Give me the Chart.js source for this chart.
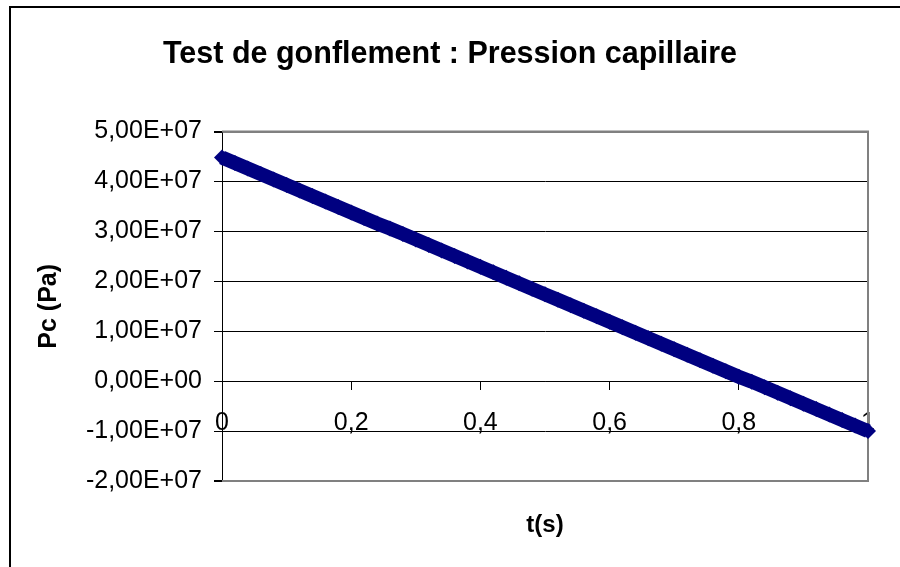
<!DOCTYPE html>
<html lang="fr">
<head>
    <meta charset="UTF-8">
    <title>Test de gonflement : Pression capillaire</title>
    <script src="https://cdn.jsdelivr.net/npm/chart.js@4.4.0/dist/chart.umd.min.js"></script>
    <style>
        body { margin: 0; background: #fff; }
        #wrap { width: 900px; height: 567px; }
    </style>
</head>
<body>
    <div id="wrap"><canvas id="pc-chart" width="900" height="567"></canvas></div>

    <script>
        // Données
        const tValues = [0, 0.02, 0.04, 0.06, 0.08, 0.1, 0.12, 0.14, 0.16, 0.18,
            0.2, 0.22, 0.24, 0.26, 0.28, 0.3, 0.32, 0.34, 0.36, 0.38,
            0.4, 0.42, 0.44, 0.46, 0.48, 0.5, 0.52, 0.54, 0.56, 0.58,
            0.6, 0.62, 0.64, 0.66, 0.68, 0.7, 0.72, 0.74, 0.76, 0.78,
            0.8, 0.82, 0.84, 0.86, 0.88, 0.9, 0.92, 0.94, 0.96, 0.98, 1];
        const pcValues = [4.48e7, 4.37e7, 4.26e7, 4.15e7, 4.04e7, 3.93e7, 3.82e7, 3.71e7, 3.60e7, 3.49e7,
            3.38e7, 3.27e7, 3.16e7, 3.06e7, 2.95e7, 2.84e7, 2.73e7, 2.62e7, 2.51e7, 2.40e7,
            2.29e7, 2.18e7, 2.07e7, 1.96e7, 1.85e7, 1.74e7, 1.63e7, 1.52e7, 1.41e7, 1.30e7,
            1.19e7, 1.08e7, 0.97e7, 0.86e7, 0.75e7, 0.64e7, 0.53e7, 0.42e7, 0.31e7, 0.20e7,
            0.09e7, -0.01e7, -0.12e7, -0.23e7, -0.34e7, -0.45e7, -0.56e7, -0.67e7, -0.78e7, -0.89e7, -1.00e7];

        const xTickLabels = ['0', '0,2', '0,4', '0,6', '0,8', '1'];
        const yTickValues = [-2e7, -1e7, 0, 1e7, 2e7, 3e7, 4e7, 5e7];
        const yTickLabels = ['-2,00E+07', '-1,00E+07', '0,00E+00', '1,00E+07', '2,00E+07', '3,00E+07', '4,00E+07', '5,00E+07'];
        const xAxisTitle = 't(s)';

        const FONT = "'Liberation Sans', Arial, sans-serif";
        const NAVY = '#000080';

        // Cadre extérieur, bordure grise de la zone de tracé, titre de l'axe X
        const framePlugin = {
            id: 'frame',
            beforeDraw(chart) {
                const ctx = chart.ctx;
                ctx.save();
                ctx.strokeStyle = '#000';
                ctx.lineWidth = 2;
                ctx.beginPath();
                ctx.moveTo(10, 567);
                ctx.lineTo(10, 7);
                ctx.lineTo(900, 7);
                ctx.stroke();
                ctx.restore();
            },
            beforeDatasetsDraw(chart) {
                const a = chart.chartArea;
                const ctx = chart.ctx;
                ctx.save();
                ctx.strokeStyle = '#808080';
                ctx.lineWidth = 2;
                ctx.beginPath();
                ctx.moveTo(a.left, a.top);
                ctx.lineTo(a.right, a.top);
                ctx.lineTo(a.right, a.bottom);
                ctx.lineTo(a.left, a.bottom);
                ctx.stroke();
                ctx.restore();
            },
            afterDraw(chart) {
                const a = chart.chartArea;
                const ctx = chart.ctx;
                ctx.save();
                ctx.fillStyle = '#000';
                ctx.font = 'bold 24px ' + FONT;
                ctx.textAlign = 'center';
                ctx.textBaseline = 'middle';
                ctx.fillText(xAxisTitle, (a.left + a.right) / 2, a.bottom + 44);
                ctx.restore();
            }
        };

        new Chart(document.getElementById('pc-chart'), {
            type: 'scatter',
            data: {
                datasets: [{
                    label: 'Pc',
                    data: tValues.map((t, i) => ({ x: t, y: pcValues[i] })),
                    showLine: true,
                    borderColor: NAVY,
                    borderWidth: 14,
                    backgroundColor: NAVY,
                    pointStyle: 'rectRot',
                    pointRadius: 8,
                    pointBorderWidth: 0,
                    pointBackgroundColor: NAVY,
                    clip: false
                }]
            },
            options: {
                responsive: false,
                animation: false,
                layout: { padding: { left: 0, right: 0, top: 0, bottom: 86 } },
                plugins: {
                    legend: { display: false },
                    tooltip: { enabled: false },
                    title: {
                        display: true,
                        text: 'Test de gonflement : Pression capillaire',
                        color: '#000',
                        font: { family: FONT, size: 30.5, weight: 'bold' },
                        padding: { top: 36, bottom: 59 }
                    }
                },
                scales: {
                    x: {
                        type: 'linear',
                        min: 0,
                        max: 1,
                        position: { y: 0 },
                        border: { color: '#000', width: 1 },
                        grid: { drawOnChartArea: false, drawTicks: true, tickLength: 8, tickColor: '#000' },
                        ticks: {
                            stepSize: 0.2,
                            color: '#000',
                            padding: 19,
                            maxRotation: 0,
                            font: { family: FONT, size: 25 },
                            callback: (v, i) => xTickLabels[i]
                        }
                    },
                    y: {
                        min: -2e7,
                        max: 5e7,
                        border: { color: '#000', width: 1 },
                        grid: {
                            color: c => (c.tick && (c.tick.value === 5e7 || c.tick.value === -2e7)) ? '#808080' : '#000',
                            lineWidth: c => (c.tick && (c.tick.value === 5e7 || c.tick.value === -2e7)) ? 2 : 1,
                            tickLength: 8,
                            tickColor: '#000'
                        },
                        ticks: {
                            stepSize: 1e7,
                            color: '#000',
                            padding: 12,
                            font: { family: FONT, size: 25 },
                            callback: v => yTickLabels[yTickValues.findIndex(y => Math.abs(y - v) < 1)]
                        },
                        title: {
                            display: true,
                            text: 'Pc (Pa)',
                            color: '#000',
                            font: { family: FONT, size: 25, weight: 'bold' },
                            padding: { top: 34, bottom: 0 }
                        },
                        afterFit: scale => { scale.width = 222; }
                    },
                    // axe vide pour réserver la marge droite
                    yRight: {
                        position: 'right',
                        display: true,
                        grid: { display: false },
                        border: { display: false },
                        ticks: { display: false },
                        afterFit: scale => { scale.width = 32; }
                    }
                }
            },
            plugins: [framePlugin]
        });
    </script>
</body>
</html>
